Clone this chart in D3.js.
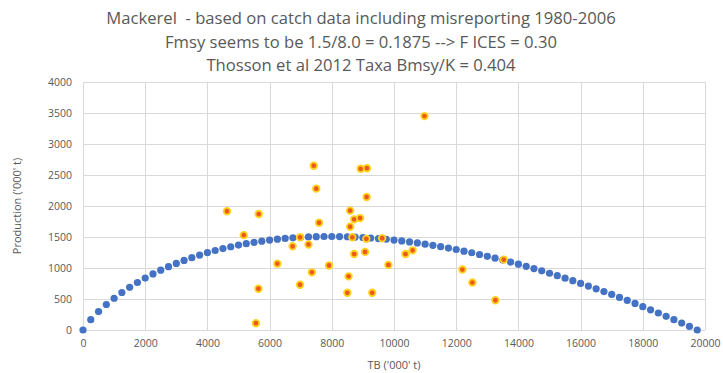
<!DOCTYPE html>
<html>
<head>
<meta charset="utf-8">
<script src="https://cdn.jsdelivr.net/npm/d3@7"></script>
<style>
  body { margin: 0; background: #fff; }
  text { font-family: "Open Sans", sans-serif; fill: #595959; white-space: pre; }
</style>
</head>
<body>
<svg id="chart" width="723" height="373"></svg>
<script>
// title lines
var titleLines = [
  "Mackerel  - based on catch data including misreporting 1980-2006",
  "Fmsy seems to be 1.5/8.0 = 0.1875 --> F ICES = 0.30",
  "Thosson et al 2012 Taxa Bmsy/K = 0.404"
];

// production curve (blue)
var curveTB = [0,250,500,750,1000,1250,1500,1750,2000,2250,2500,2750,3000,3250,3500,3750,
  4000,4250,4500,4750,5000,5250,5500,5750,6000,6250,6500,6750,7000,7250,7500,7750,
  8000,8250,8500,8750,9000,9250,9500,9750,10000,10250,10500,10750,11000,11250,11500,11750,
  12000,12250,12500,12750,13000,13250,13500,13750,14000,14250,14500,14750,15000,15250,15500,15750,
  16000,16250,16500,16750,17000,17250,17500,17750,18000,18250,18500,18750,19000,19250,19500,19750];
var curveProd = [0,166,297,411,512,605,689,766,838,904,965,1022,1074,1122,1167,1209,
  1247,1282,1314,1343,1369,1393,1414,1433,1450,1465,1477,1487,1495,1501,1505,1508,
  1508,1507,1504,1499,1492,1484,1475,1464,1451,1437,1421,1404,1385,1365,1344,1321,
  1298,1272,1246,1218,1189,1159,1128,1095,1061,1027,991,954,915,876,836,795,
  752,709,664,619,573,525,477,428,377,326,274,221,167,112,57,0];

// observed catch-based points (orange)
var obsTB = [10980,7420,8930,9130,7500,9120,4630,5650,8590,8720,8910,7590,8590,5170,6980,8660,9110,9620,
  6740,7250,8720,9070,10370,10600,6250,7910,9820,7360,8540,12200,12520,5640,6980,8500,9300,13260,5560,13530];
var obsProd = [3450,2650,2600,2610,2280,2145,1915,1870,1925,1785,1805,1730,1665,1530,1495,1495,1470,1480,
  1350,1380,1225,1260,1225,1285,1070,1040,1050,930,865,975,765,665,730,600,600,480,110,1135];

var xTicks = d3.range(0, 20001, 2000);
var yTicks = d3.range(0, 4001, 500);

var svg = d3.select("#chart");
var margin = {left: 83, right: 18, top: 82, bottom: 43};
var width = 723 - margin.left - margin.right,
    height = 373 - margin.top - margin.bottom;

var x = d3.scaleLinear().domain([0, 20000]).range([0, width]);
var y = d3.scaleLinear().domain([0, 4000]).range([height, 0]);

var g = svg.append("g").attr("transform", "translate(" + margin.left + "," + margin.top + ")");

// gridlines
g.append("g").selectAll("line")
  .data(yTicks).enter().append("line")
    .attr("x1", 0).attr("x2", width)
    .attr("y1", function(d) { return Math.round(y(d)) + 0.5; })
    .attr("y2", function(d) { return Math.round(y(d)) + 0.5; })
    .attr("stroke", "#d9d9d9");
g.append("g").selectAll("line")
  .data(xTicks).enter().append("line")
    .attr("y1", 0).attr("y2", height)
    .attr("x1", function(d) { return Math.round(x(d)) + 0.5; })
    .attr("x2", function(d) { return Math.round(x(d)) + 0.5; })
    .attr("stroke", "#d9d9d9");

// axes (labels only)
var xAxis = g.append("g")
  .attr("transform", "translate(0," + height + ")")
  .call(d3.axisBottom(x).tickValues(xTicks).tickSize(0).tickPadding(10).tickFormat(d3.format("d")));
var yAxis = g.append("g")
  .call(d3.axisLeft(y).tickValues(yTicks).tickSize(0).tickPadding(11).tickFormat(d3.format("d")));
[xAxis, yAxis].forEach(function(a) {
  a.select(".domain").remove();
  a.selectAll("text").attr("font-family", "'Open Sans', sans-serif")
    .attr("font-size", 10.5).attr("fill", "#595959");
});

// curve markers
g.append("g").selectAll("circle")
  .data(curveTB).enter().append("circle")
    .attr("cx", function(d) { return x(d); })
    .attr("cy", function(d, i) { return y(curveProd[i]); })
    .attr("r", 3.6)
    .attr("fill", "#4472c4");

// observed markers
g.append("g").selectAll("circle")
  .data(obsTB).enter().append("circle")
    .attr("cx", function(d) { return x(d); })
    .attr("cy", function(d, i) { return y(obsProd[i]); })
    .attr("r", 3.3)
    .attr("fill", "#ed5a1c")
    .attr("stroke", "#ffd21f")
    .attr("stroke-width", 1.8);

// axis titles
svg.append("text")
  .attr("x", margin.left + width / 2).attr("y", 369)
  .attr("text-anchor", "middle").attr("font-size", 11)
  .text("TB ('000' t)");
svg.append("text")
  .attr("transform", "translate(21," + (margin.top + height / 2) + ") rotate(-90)")
  .attr("text-anchor", "middle").attr("font-size", 11)
  .text("Production ('000' t)");

// title
var title = svg.append("g");
var tl = title.selectAll("text")
  .data(titleLines).enter().append("text")
    .attr("x", 361)
    .attr("y", function(d, i) { return 24 + i * 23.5; })
    .attr("text-anchor", "middle")
    .attr("font-size", 16)
    .attr("xml:space", "preserve")
    .text(function(d) { return d; });
// fit first line to about 510px wide
var w0 = tl.node().getComputedTextLength();
var fs = 16 * 510 / w0;
tl.attr("font-size", fs);
</script>
</body>
</html>
